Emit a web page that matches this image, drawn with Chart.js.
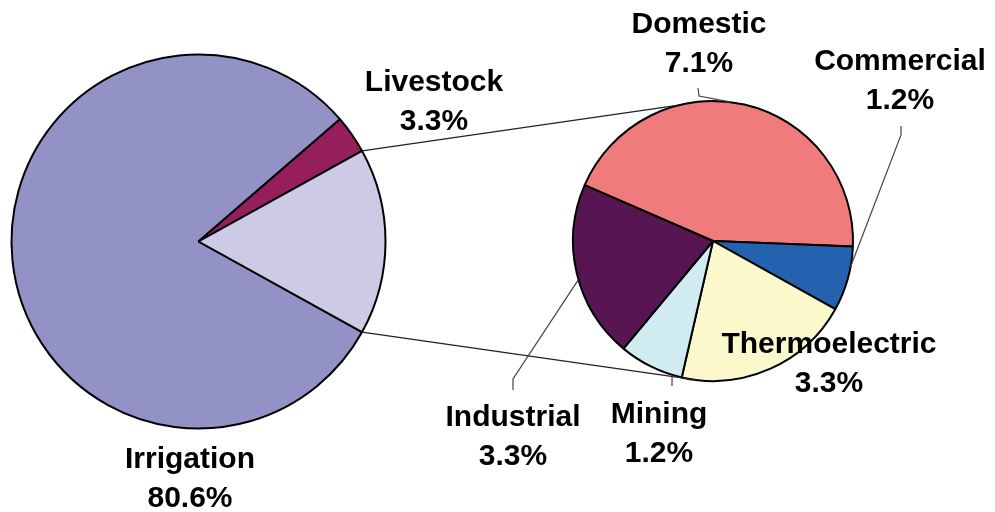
<!DOCTYPE html>
<html>
<head>
<meta charset="utf-8">
<script src="https://cdn.jsdelivr.net/npm/chart.js@4.4.1/dist/chart.umd.min.js"></script>
<style>
  html, body { margin: 0; padding: 0; background: #fff; }
  #wrap { position: relative; width: 995px; height: 512px; }
  #wrap canvas { position: absolute; left: 0; top: 0; }
</style>
</head>
<body>
<div id="wrap">
  <canvas id="main-pie" width="995" height="512"></canvas>
  <canvas id="detail-pie" width="995" height="512"></canvas>
</div>
<script>
// water use shares (%)
const mainLabels = ['Irrigation', 'Livestock', 'Other'];
const mainValues = [80.6, 3.3, 16.1];

const detailLabels = ['Domestic', 'Commercial', 'Thermoelectric', 'Mining', 'Industrial'];
const detailValues = [7.1, 1.2, 3.3, 1.2, 3.3];

const mainColors = ['#9392c6', '#951f5c', '#cdcae5'];
const detailColors = ['#f07b7c', '#2461af', '#fbf8cc', '#d1ecf1', '#571552'];

// label placement: centre x, first baseline y, optional leader (bend points + angle on the small pie)
const labelLayout = {
  Irrigation:     { x: 190, y: 468 },
  Livestock:      { x: 434, y: 91 },
  Domestic:       { x: 699, y: 33,  leader: [[698, 88], [699, 96]], angle: -82.6 },
  Commercial:     { x: 900, y: 70,  leader: [[901, 126], [901, 135]], angle: 10.6 },
  Thermoelectric: { x: 829, y: 353 },
  Mining:         { x: 659, y: 423, leader: [[672, 386]], angle: 107 },
  Industrial:     { x: 513, y: 426, leader: [[513, 390], [513, 379]], angle: 164 }
};

// where the connector lines meet the small pie (degrees, clockwise from 3 o'clock)
const joinTop = -104;
const joinBottom = 97;

const rad = (d) => d * Math.PI / 180;
const sum = (arr) => arr.reduce((a, b) => a + b, 0);

// "Other" slice centred on 3 o'clock
const mainRotation = 90 + mainValues[2] / sum(mainValues) * 180;
// Commercial starts just below 3 o'clock on the small pie
const commercialStart = 2.3;
const detailRotation = 90 + commercialStart - detailValues[0] / sum(detailValues) * 360;

function fmt(v) {
  return v.toFixed(1) + '%';
}

function pieOptions(rotation, radius, padding) {
  return {
    responsive: false,
    animation: false,
    events: [],
    rotation: rotation,
    radius: radius,
    layout: { padding: padding },
    plugins: {
      legend: { display: false },
      tooltip: { enabled: false }
    }
  };
}

const mainChart = new Chart(document.getElementById('main-pie').getContext('2d'), {
  type: 'pie',
  data: {
    labels: mainLabels,
    datasets: [{
      data: mainValues,
      backgroundColor: mainColors,
      borderColor: '#000',
      borderWidth: 2
    }]
  },
  options: pieOptions(mainRotation, 187, { left: 0, right: 598, top: 0, bottom: 29 })
});

const overlay = {
  id: 'overlay',
  afterDraw(chart) {
    const ctx = chart.ctx;
    const big = mainChart.getDatasetMeta(0).data[2];
    const small = chart.getDatasetMeta(0).data[0];
    const onBig = (a) => [big.x + big.outerRadius * Math.cos(a), big.y + big.outerRadius * Math.sin(a)];
    const onSmall = (deg) => [small.x + small.outerRadius * Math.cos(rad(deg)), small.y + small.outerRadius * Math.sin(rad(deg))];

    ctx.save();
    // connector lines between the pies
    ctx.strokeStyle = '#222';
    ctx.lineWidth = 1.2;
    [[onBig(big.startAngle), onSmall(joinTop)], [onBig(big.endAngle), onSmall(joinBottom)]].forEach(([p, q]) => {
      ctx.beginPath();
      ctx.moveTo(p[0], p[1]);
      ctx.lineTo(q[0], q[1]);
      ctx.stroke();
    });

    // labels
    ctx.font = 'bold 30px "Liberation Sans", Arial, sans-serif';
    ctx.textAlign = 'center';
    ctx.textBaseline = 'alphabetic';
    const all = mainLabels.slice(0, 2).map((l, i) => [l, mainValues[i]])
      .concat(detailLabels.map((l, i) => [l, detailValues[i]]));
    all.forEach(([label, value]) => {
      const pos = labelLayout[label];
      if (pos.leader) {
        const end = onSmall(pos.angle);
        ctx.strokeStyle = '#444';
        ctx.lineWidth = 1.2;
        ctx.beginPath();
        ctx.moveTo(pos.leader[0][0], pos.leader[0][1]);
        pos.leader.slice(1).forEach((p) => ctx.lineTo(p[0], p[1]));
        ctx.lineTo(end[0], end[1]);
        ctx.stroke();
      }
      ctx.fillStyle = '#000';
      ctx.fillText(label, pos.x, pos.y);
      ctx.fillText(fmt(value), pos.x, pos.y + 38.5);
    });
    ctx.restore();
  }
};

const detailChart = new Chart(document.getElementById('detail-pie').getContext('2d'), {
  type: 'pie',
  data: {
    labels: detailLabels,
    datasets: [{
      data: detailValues,
      backgroundColor: detailColors,
      borderColor: '#000',
      borderWidth: 2
    }]
  },
  options: pieOptions(detailRotation, 140, { left: 431, right: 0, top: 0, bottom: 30 }),
  plugins: [overlay]
});
</script>
</body>
</html>
